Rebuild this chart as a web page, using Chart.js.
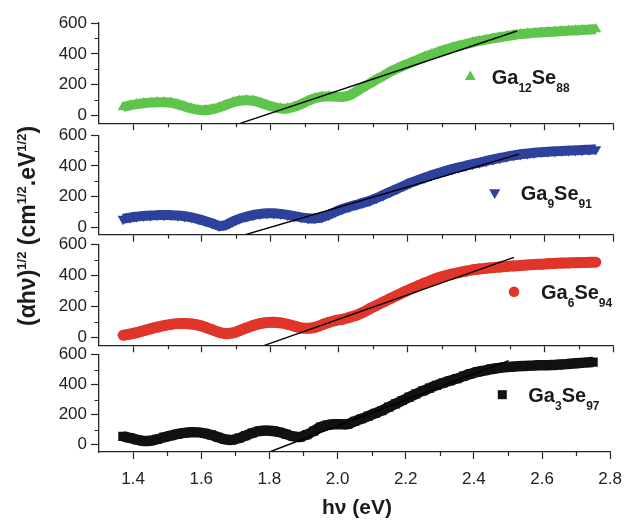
<!DOCTYPE html>
<html><head><meta charset="utf-8">
<script src="https://cdn.jsdelivr.net/npm/chart.js@4"></script>
<style>
html,body{margin:0;padding:0;background:#fff;}
#wrap{position:relative;width:632px;height:521px;overflow:hidden;font-family:"Liberation Sans",Arial,Helvetica,sans-serif;color:#1a1a1a;}
canvas{position:absolute;left:0;top:0;}
.lg{position:absolute;font-weight:bold;font-size:20px;line-height:20px;white-space:nowrap;}
.lg span{position:relative;top:8px;font-size:12px;}
#ytitle{position:absolute;left:29px;top:226px;transform:translate(-50%,-50%) rotate(-90deg);font-weight:bold;font-size:23px;line-height:23px;white-space:nowrap;}
#ytitle sup{position:relative;top:-9px;font-size:13px;vertical-align:baseline;}
#xtitle{position:absolute;left:257px;width:200px;top:496px;text-align:center;font-weight:bold;font-size:21px;line-height:21px;}
</style></head>
<body><div id="wrap">
<canvas id="c0" width="632" height="521" style="width:632px;height:521px"></canvas>
<canvas id="c1" width="632" height="521" style="width:632px;height:521px"></canvas>
<canvas id="c2" width="632" height="521" style="width:632px;height:521px"></canvas>
<canvas id="c3" width="632" height="521" style="width:632px;height:521px"></canvas>
<div class="lg" style="left:491.7px;top:67.4px">Ga<span>12</span>Se<span>88</span></div>
<div class="lg" style="left:520.7px;top:182.8px">Ga<span>9</span>Se<span>91</span></div>
<div class="lg" style="left:541px;top:282.1px">Ga<span>6</span>Se<span>94</span></div>
<div class="lg" style="left:528.3px;top:385.1px">Ga<span>3</span>Se<span>97</span></div>
<div id="ytitle">(αhν)<sup>1/2</sup> (cm<sup>1/2</sup>.eV<sup>1/2</sup>)</div>
<div id="xtitle">hν (eV)</div>
</div>
<script>
// ---------- data ----------
const hv = [1.37,1.39,1.41,1.43,1.45,1.47,1.49,1.51,1.53,1.55,1.57,1.59,1.61,1.63,1.65,1.67,1.69,1.71,1.73,1.75,
            1.77,1.79,1.81,1.83,1.85,1.87,1.89,1.91,1.93,1.95,1.97,1.99,2.01,2.03,2.05,2.07,2.09,2.11,2.13,2.15,
            2.17,2.19,2.21,2.23,2.25,2.27,2.29,2.31,2.33,2.35,2.37,2.39,2.41,2.43,2.45,2.47,2.49,2.51,2.53,2.55,
            2.57,2.59,2.61,2.63,2.65,2.67,2.69,2.71,2.73,2.75];
const ga12se88 = [55,66,74,80,84,86,87,83,73,59, 46,37,35,41,53,69,85,96,100,96,
                  84,69,55,46,46,57,74,95,112,122, 124,122,121,130,155,183,208,234,258,284,
                  305,325,343,361,380,396,412,426,440,452, 463,474,484,492,500,508,515,522,528,532,
                  536,539,542,544,547,550,552,555,557,560];
const ga9se91  = [53,62,68,73,76,78,79,78,76,71, 63,52,39,25,8,14,36,55,68,79,
                  86,90,90,86,80,71,63,58,57,63, 80,100,118,132,145,158,172,190,210,230,
                  250,270,290,307,323,338,353,366,379,390, 401,412,422,432,442,452,461,469,476,481,
                  486,490,493,495,498,500,502,504,506,508];
const ga6se94  = [15,22,32,44,56,67,77,85,90,91, 88,80,67,51,35,25,30,45,62,78,
                  90,97,99,95,86,74,63,60,66,82, 98,110,118,130,143,163,186,208,230,252,
                  273,294,314,333,352,370,386,399,410,420, 429,437,443,448,452,456,460,463,466,469,
                  472,474,477,479,481,482,484,485,486,487];
const ga3se97  = [55,45,33,24,25,35,48,60,70,78, 82,81,75,64,48,34,31,42,60,77,
                  89,93,90,82,68,54,50,66,90,116, 130,135,135,136,155,172,190,208,227,250,
                  272,294,316,338,358,377,395,411,426,440, 457,472,485,494,503,510,516,520,523,525,
                  527,529,530,531,534,537,541,545,548,551];
// linear fits (endpoints)
const fitGa12 = [[1.712,-50],[2.52,548]];
const fitGa9  = [[1.727,-50],[2.526,477]];
const fitGa6  = [[1.783,-50],[2.511,518]];
const fitGa3  = [[1.80,-50],[2.502,560]];
const xMajor = [1.4,1.6,1.8,2.0,2.2,2.4,2.6,2.8];
const xMinor = [1.5,1.7,1.9,2.1,2.3,2.5,2.7];
const yMajor = [0,200,400,600];
const yMinor = [100,300,500];

// ---------- styling ----------
const AXIS = '#262626';
Chart.defaults.font.family = '"Liberation Sans", Arial, Helvetica, sans-serif';
Chart.defaults.font.size = 17;
Chart.defaults.color = '#222';

function drawMarker(ctx, shape, cx, cy, color){
  ctx.save(); ctx.fillStyle = color; ctx.beginPath();
  if (shape === 'up'){ ctx.moveTo(cx, cy-5.2); ctx.lineTo(cx+5.4, cy+4.4); ctx.lineTo(cx-5.4, cy+4.4); }
  else if (shape === 'down'){ ctx.moveTo(cx, cy+5.2); ctx.lineTo(cx+5.6, cy-4.6); ctx.lineTo(cx-5.6, cy-4.6); }
  else if (shape === 'circle'){ ctx.arc(cx, cy, 5.3, 0, Math.PI*2); }
  else { ctx.rect(cx-4.5, cy-4.5, 9, 9); }
  ctx.closePath(); ctx.fill(); ctx.restore();
}

const extras = {
  id: 'extras',
  afterDraw(chart, args, opts){
    const {ctx, chartArea:a, scales:{x, y}} = chart;
    ctx.save(); ctx.strokeStyle = AXIS; ctx.lineWidth = 1.2; ctx.beginPath();
    yMinor.forEach(v => { const p = Math.round(y.getPixelForValue(v)) + 0.5; ctx.moveTo(a.left - 4.5, p); ctx.lineTo(a.left, p); });
    xMinor.forEach(v => { const p = Math.round(x.getPixelForValue(v)) + 0.5; ctx.moveTo(p, a.bottom); ctx.lineTo(p, a.bottom + 4); });
    ctx.stroke(); ctx.restore();
    drawMarker(ctx, opts.shape, opts.mx, opts.my, opts.color);
  }
};

const panels = [
  {id:'c0', top:23.0,  bottom:123.3, vals:ga12se88, fit:fitGa12, color:'#5fc44b', ps:'triangle', rot:0,   r:6.2, lw:10, labels:false, leg:{shape:'up',mx:470.3,my:75.7}},
  {id:'c1', top:135.3, bottom:234.7, vals:ga9se91,  fit:fitGa9,  color:'#2e419c', ps:'triangle', rot:180, r:6.2, lw:10, labels:false, leg:{shape:'down',mx:494.7,my:193.8}},
  {id:'c2', top:244.7, bottom:345.3, vals:ga6se94,  fit:fitGa6,  color:'#e0352a', ps:'circle',   rot:0,   r:5.4, lw:11, labels:false, leg:{shape:'circle',mx:514,my:291.8}},
  {id:'c3', top:354.7, bottom:452.0, vals:ga3se97,  fit:fitGa3,  color:'#111111', ps:'rect',     rot:0,   r:6.5, lw:10.5, labels:true, leg:{shape:'rect',mx:502.3,my:394.7}}
];

panels.forEach(p => {
  const xh = p.labels ? 40 : 10;
  new Chart(document.getElementById(p.id), {
    type: 'line',
    data: {
      datasets: [
        { data: p.fit.map(d => ({x:d[0], y:d[1]})), borderColor:'#000', borderWidth:1.4, pointRadius:0, tension:0, fill:false },
        { data: hv.map((h,i) => ({x:h, y:p.vals[i]})), borderColor:p.color, backgroundColor:p.color,
          borderWidth:p.lw, tension:0.35, pointStyle:p.ps, pointRotation:p.rot, pointRadius:p.r,
          pointBorderWidth:0, pointBackgroundColor:p.color, fill:false, borderCapStyle:'butt' }
      ]
    },
    options: {
      responsive:false, animation:false, events:[],
      layout:{ padding:{ left:0, right:19, top:p.top, bottom:521 - p.bottom - xh } },
      plugins:{ legend:{display:false}, tooltip:{enabled:false}, extras:{ ...p.leg, color:p.color } },
      scales:{
        x:{ type:'linear', min:1.3, max:2.8,
            afterBuildTicks: s => { s.ticks = xMajor.map(v => ({value:v})); },
            afterFit: s => { s.height = xh; },
            grid:{ drawOnChartArea:false, drawTicks:true, tickLength:7, tickColor:AXIS, tickWidth:1.2 },
            border:{ display:true, color:AXIS, width:1.3 },
            ticks:{ display:p.labels, autoSkip:false, maxRotation:0, padding:10, callback: v => Number(v).toFixed(1) } },
        y:{ type:'linear', min:-50, max:600,
            afterBuildTicks: s => { s.ticks = yMajor.map(v => ({value:v})); },
            afterFit: s => { s.width = 99; },
            grid:{ drawOnChartArea:false, drawTicks:true, tickLength:8, tickColor:AXIS, tickWidth:1.2 },
            border:{ display:true, color:AXIS, width:1.3 },
            ticks:{ padding:4, callback: v => String(v) } }
      }
    },
    plugins:[extras]
  });
});
</script>
</body></html>
